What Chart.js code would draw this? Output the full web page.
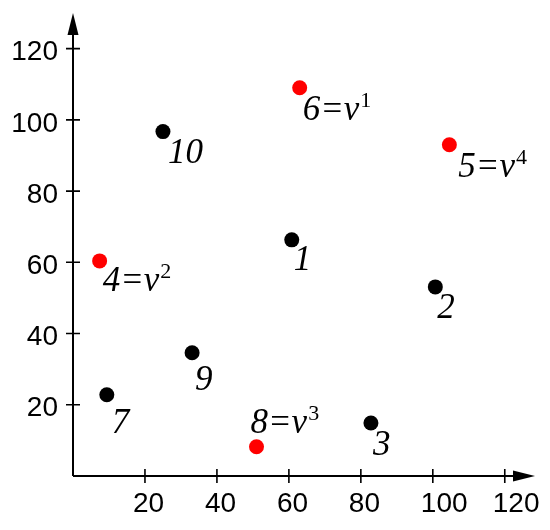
<!DOCTYPE html>
<html lang="en">
<head>
<meta charset="UTF-8">
<title>Points</title>
<script src="https://cdn.jsdelivr.net/npm/chart.js@4.4.1/dist/chart.umd.min.js"></script>
<style>
  body { margin: 0; background: #fff; }
</style>
</head>
<body>
<canvas id="myChart" width="550" height="530"></canvas>
<script>
// data
var xValues = [60.8, 100.7, 82.8, 7.4, 104.6, 63.0, 9.4, 51.0, 33.1, 25.0];
var yValues = [66.3, 53.1, 14.9, 60.4, 93.0, 109.0, 22.8, 8.2, 34.6, 96.7];
var labelMain = ['1', '2', '3', '4=v', '5=v', '6=v', '7', '8=v', '9', '10'];
var labelSup = ['', '', '', '2', '4', '1', '', '3', '', ''];
var tickValues = [20, 40, 60, 80, 100, 120];

// style
var pointColors = ['#000', '#000', '#000', '#f00', '#f00', '#f00', '#000', '#f00', '#000', '#000'];
var labelOffsets = [[2, 30], [2, 31], [2, 32], [3, 30], [9, 32], [3, 32], [5, 38], [-6, -14], [3, 37], [5, 31]];

var f_points = function(){
    var v_pts = [];
    for (var i = 0; i < xValues.length; i++) {
        v_pts.push({x: xValues[i], y: yValues[i]});
    }
    return v_pts;
};

var keepTicks = function(scale){
    scale.ticks = tickValues.map(function(v){ return {value: v}; });
};

// axes with arrows, crossing ticks, point labels
var drawExtras = {
    id: 'drawExtras',
    afterDraw: function(chart){
        var c = chart.ctx;
        var xs = chart.scales.x, ys = chart.scales.y;
        var ox = xs.getPixelForValue(0), oy = ys.getPixelForValue(0);
        var right = chart.chartArea.right, top = chart.chartArea.top;
        c.save();
        c.strokeStyle = '#000';
        c.fillStyle = '#000';
        c.lineWidth = 2;
        c.beginPath();
        c.moveTo(ox, oy); c.lineTo(right - 10, oy);
        c.moveTo(ox, oy); c.lineTo(ox, top + 10);
        c.stroke();
        // arrow heads
        c.beginPath();
        c.moveTo(right, oy); c.lineTo(right - 22, oy - 5.5); c.lineTo(right - 22, oy + 5.5); c.closePath();
        c.fill();
        c.beginPath();
        c.moveTo(ox, top); c.lineTo(ox - 5.5, top + 22); c.lineTo(ox + 5.5, top + 22); c.closePath();
        c.fill();
        // ticks
        c.lineWidth = 1.6;
        c.beginPath();
        tickValues.forEach(function(v){
            var px = xs.getPixelForValue(v);
            c.moveTo(px, oy - 7); c.lineTo(px, oy + 7);
            var py = ys.getPixelForValue(v);
            c.moveTo(ox - 7, py); c.lineTo(ox + 7, py);
        });
        c.stroke();
        // labels
        c.textAlign = 'left';
        c.textBaseline = 'alphabetic';
        for (var i = 0; i < xValues.length; i++) {
            var tx = xs.getPixelForValue(xValues[i]) + labelOffsets[i][0];
            var ty = ys.getPixelForValue(yValues[i]) + labelOffsets[i][1];
            c.font = 'italic 35px "Liberation Serif"';
            c.fillText(labelMain[i], tx, ty);
            if (labelSup[i]) {
                var w = c.measureText(labelMain[i]).width;
                c.font = '22px "Liberation Serif"';
                c.fillText(labelSup[i], tx + w + 1, ty - 13);
            }
        }
        c.restore();
    }
};

var ctx = document.getElementById('myChart').getContext('2d');
var myChart = new Chart(ctx, {
    type: 'scatter',
    data: {
        datasets: [{
            data: f_points(),
            pointBackgroundColor: pointColors,
            pointBorderWidth: 0,
            pointRadius: 7.5,
            pointHoverRadius: 7.5
        }]
    },
    options: {
        responsive: false,
        animation: false,
        layout: { padding: { top: 13, right: 15, left: 0, bottom: 0 } },
        plugins: { legend: { display: false }, tooltip: { enabled: false } },
        scales: {
            x: {
                type: 'linear', min: 0, max: 128.4,
                grid: { display: false, drawTicks: false },
                border: { display: false },
                afterBuildTicks: keepTicks,
                afterFit: function(s){ s.height = 54; s.paddingLeft = 0; s.paddingRight = 0; },
                ticks: { color: '#000', padding: 11, maxRotation: 0, align: 'start', labelOffset: -12,
                         font: { family: '"Liberation Sans"', size: 28 } }
            },
            y: {
                type: 'linear', min: 0, max: 130,
                grid: { display: false, drawTicks: false },
                border: { display: false },
                afterBuildTicks: keepTicks,
                afterFit: function(s){ s.width = 73; s.paddingTop = 0; s.paddingBottom = 0; },
                ticks: { color: '#000', padding: 15, labelOffset: 4,
                         font: { family: '"Liberation Sans"', size: 28 } }
            }
        }
    },
    plugins: [drawExtras]
});
</script>
</body>
</html>
